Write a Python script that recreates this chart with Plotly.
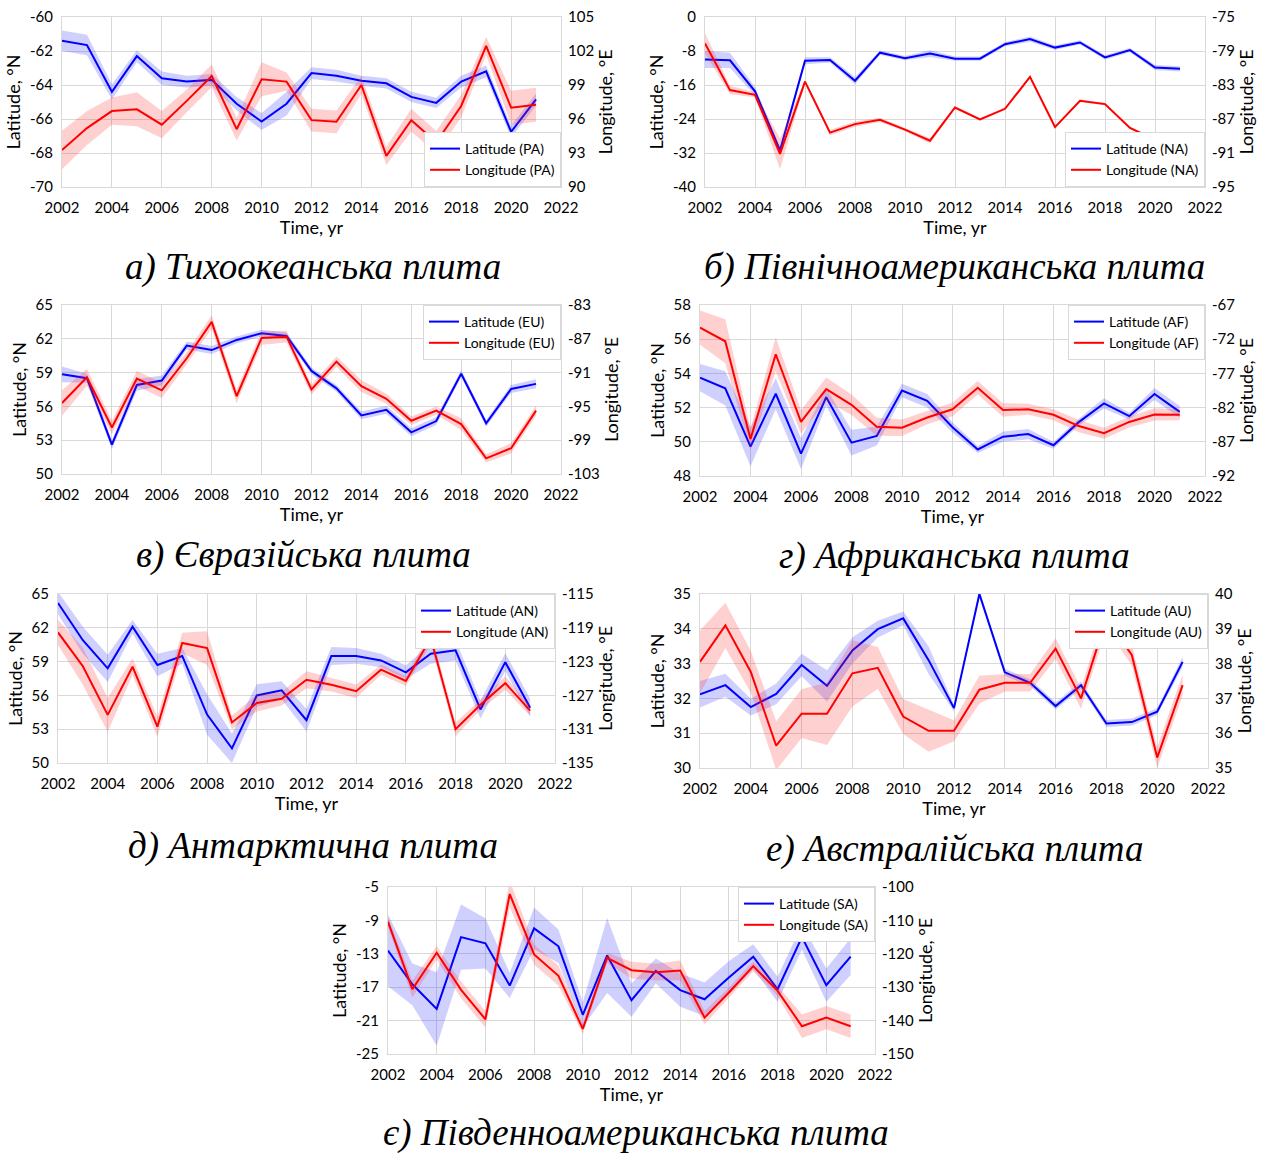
import plotly.graph_objects as go

W, H = 1273, 1154

years = list(range(2002, 2022))

# ---- Pacific plate (PA)
pa_lat = [-61.4, -61.65, -64.4, -62.3, -63.6, -63.8, -63.7, -65.1, -66.15, -65.1,
          -63.3, -63.45, -63.75, -63.9, -64.7, -65.05, -63.8, -63.2, -66.75, -64.85]
pa_lat_err = [0.6, 0.6, 0.45, 0.35, 0.4, 0.35, 0.35, 0.4, 0.5, 0.7,
              0.35, 0.35, 0.3, 0.3, 0.3, 0.3, 0.35, 0.35, 0.35, 0.35]
pa_lon = [93.26, 95.2, 96.7, 96.85, 95.5, 97.6, 99.8, 95.1, 99.5, 99.3,
          95.9, 95.75, 99.0, 92.75, 95.9, 93.95, 97.15, 102.45, 97.0, 97.25]
pa_lon_err = [1.7, 1.5, 1.2, 1.5, 1.2, 1.0, 1.0, 1.0, 1.5, 0.8,
              1.0, 1.0, 0.8, 0.8, 1.0, 1.0, 1.0, 0.8, 1.5, 1.5]

# ---- North American plate (NA)
na_lat = [-10.0, -10.2, -17.5, -31.4, -10.3, -10.1, -15.0, -8.4, -9.7, -8.6,
          -9.8, -9.8, -6.4, -5.2, -7.2, -6.0, -9.5, -7.8, -11.9, -12.2]
na_lat_err = [2.0, 1.8, 1.0, 0.8, 0.8, 0.6, 0.8, 0.5, 0.5, 0.8,
              0.5, 0.5, 0.5, 0.6, 0.5, 0.5, 0.5, 0.5, 0.6, 0.6]
na_lon = [-78.1, -83.6, -84.15, -91.1, -82.6, -88.6, -87.6, -87.1, -88.25, -89.55,
          -85.65, -87.05, -85.8, -82.05, -87.95, -84.85, -85.25, -88.05, -89.45, -89.25]
na_lon_err = [1.2, 0.5, 0.3, 1.8, 0.2, 0.3, 0.3, 0.25, 0.2, 0.3,
              0.15, 0.15, 0.15, 0.15, 0.15, 0.15, 0.15, 0.15, 0.15, 0.15]

# ---- Eurasian plate (EU)
eu_lat = [58.85, 58.5, 52.6, 57.9, 58.3, 61.4, 61.0, 61.9, 62.5, 62.25,
          59.15, 57.6, 55.2, 55.7, 53.7, 54.7, 58.9, 54.5, 57.55, 58.0]
eu_lat_err = [0.7, 0.4, 0.4, 0.5, 0.45, 0.35, 0.35, 0.3, 0.3, 0.3,
              0.3, 0.3, 0.35, 0.35, 0.35, 0.35, 0.3, 0.3, 0.35, 0.4]
eu_lon = [-94.6, -91.55, -97.5, -91.7, -93.1, -89.3, -85.0, -93.8, -86.9, -86.75,
          -93.0, -89.7, -92.6, -94.1, -96.7, -95.5, -97.1, -101.15, -99.95, -95.5]
eu_lon_err = [1.5, 1.0, 0.8, 0.9, 0.9, 0.7, 0.8, 0.8, 0.8, 0.7,
              0.6, 0.6, 0.7, 0.6, 0.5, 0.5, 0.7, 0.5, 0.6, 0.6]

# ---- African plate (AF)
af_lat = [53.75, 53.13, 49.72, 52.81, 49.31, 52.61, 49.95, 50.34, 53.0, 52.4,
          50.85, 49.55, 50.3, 50.45, 49.8, 51.15, 52.25, 51.5, 52.8, 51.75]
af_lat_err = [0.8, 1.0, 1.15, 0.9, 0.9, 0.5, 0.75, 0.55, 0.4, 0.4,
              0.3, 0.2, 0.3, 0.3, 0.2, 0.2, 0.3, 0.2, 0.35, 0.35]
af_lon = [-70.3, -72.3, -86.6, -74.2, -84.1, -79.3, -81.6, -84.8, -84.95, -83.45,
          -82.25, -79.1, -82.35, -82.25, -83.05, -84.7, -85.75, -84.1, -83.0, -83.05]
af_lon_err = [2.5, 3.2, 1.5, 2.5, 1.7, 1.7, 1.5, 1.3, 1.2, 1.0,
              1.0, 1.0, 1.0, 0.8, 0.8, 0.9, 0.8, 0.8, 0.9, 0.8]

# ---- Antarctic plate (AN)
an_lat = [64.2, 60.9, 58.4, 62.1, 58.7, 59.5, 54.3, 51.3, 56.0, 56.45,
          53.8, 59.5, 59.5, 59.1, 58.05, 59.7, 60.0, 54.75, 58.95, 54.9]
an_lat_err = [1.0, 1.2, 1.2, 0.6, 1.0, 0.7, 1.8, 1.3, 1.0, 0.8,
              1.0, 0.8, 0.7, 0.6, 0.6, 0.9, 0.9, 0.8, 0.8, 0.8]
an_lon = [-119.55, -123.55, -129.3, -123.6, -130.7, -120.8, -121.4, -130.2, -127.9, -127.4,
          -125.15, -125.75, -126.5, -123.95, -125.3, -120.2, -131.0, -128.1, -125.55, -128.8]
an_lon_err = [1.5, 2.2, 2.0, 1.0, 1.2, 1.2, 2.0, 0.8, 1.0, 0.8,
              1.0, 0.8, 0.8, 0.6, 0.6, 0.8, 0.8, 0.6, 0.8, 0.6]

# ---- Australian plate (AU)
au_lat = [32.12, 32.38, 31.75, 32.13, 32.96, 32.36, 33.38, 33.99, 34.3, 33.1,
          31.72, 35.0, 32.75, 32.45, 31.78, 32.38, 31.28, 31.32, 31.62, 33.05]
au_lat_err = [0.38, 0.33, 0.24, 0.3, 0.32, 0.45, 0.38, 0.24, 0.2, 0.4,
              0.1, 0.1, 0.1, 0.1, 0.1, 0.1, 0.1, 0.1, 0.1, 0.15]
au_lon = [38.05, 39.1, 37.76, 35.64, 36.56, 36.56, 37.72, 37.88, 36.48, 36.07,
          36.07, 37.25, 37.45, 37.45, 38.43, 37.0, 39.3, 38.25, 35.3, 37.38]
au_lon_err = [0.9, 0.65, 0.6, 0.7, 0.7, 0.9, 0.95, 0.6, 0.5, 0.6,
              0.3, 0.4, 0.25, 0.25, 0.3, 0.3, 0.3, 0.3, 0.3, 0.3]

# ---- South American plate (SA)
sa_lat = [-12.6, -16.65, -19.6, -11.0, -11.75, -16.8, -9.95, -12.1, -20.3, -13.2,
          -18.55, -15.05, -17.35, -18.45, -15.85, -13.35, -17.25, -11.0, -16.75, -13.35]
sa_lat_err = [4.3, 2.5, 4.4, 3.9, 3.0, 1.5, 2.5, 2.0, 1.5, 4.5,
              2.0, 1.5, 2.0, 2.0, 2.0, 1.5, 1.5, 1.5, 2.0, 2.2]
sa_lon = [-110.4, -130.6, -119.7, -130.8, -139.6, -102.1, -120.2, -126.6, -142.5, -121.2,
          -124.9, -125.5, -125.0, -139.1, -131.6, -123.7, -131.1, -141.7, -139.1, -141.7]
sa_lon_err = [1.5, 2.5, 2.0, 2.5, 2.5, 4.0, 3.0, 3.0, 1.5, 1.5,
              2.5, 2.5, 3.0, 2.0, 1.5, 1.5, 1.5, 3.5, 3.5, 3.5]

codes = ["PA", "NA", "EU", "AF", "AN", "AU", "SA"]
captions = ["а) Тихоокеанська плита", "б) Північноамериканська плита",
            "в) Євразійська плита", "г) Африканська плита",
            "д) Антарктична плита", "е) Австралійська плита",
            "є) Південноамериканська плита"]
lat_ranges = [(-70, -60, 2), (-40, 0, 8), (50, 65, 3), (48, 58, 2), (50, 65, 3), (30, 35, 1), (-25, -5, 4)]
lon_ranges = [(90, 105, 3), (-95, -75, 4), (-103, -83, 4), (-92, -67, 5), (-135, -115, 4), (35, 40, 1), (-150, -100, 10)]
x_ticks = list(range(2002, 2023, 2))

series = [
    (pa_lat, pa_lat_err, pa_lon, pa_lon_err),
    (na_lat, na_lat_err, na_lon, na_lon_err),
    (eu_lat, eu_lat_err, eu_lon, eu_lon_err),
    (af_lat, af_lat_err, af_lon, af_lon_err),
    (an_lat, an_lat_err, an_lon, an_lon_err),
    (au_lat, au_lat_err, au_lon, au_lon_err),
    (sa_lat, sa_lat_err, sa_lon, sa_lon_err),
]

# layout geometry in pixels: plot area x0, x1, y0, y1 ; caption center x, y ; legend at bottom?
geom = [
    (62, 561, 17, 187, 313, 267, True),
    (705, 1205, 17, 187, 955, 267, True),
    (62, 561, 305, 474, 303, 555, False),
    (700, 1205, 305, 476, 955, 556, False),
    (58, 555, 594, 763, 313, 846, False),
    (700, 1208, 594, 768, 955, 849, False),
    (388, 875, 887, 1054, 636, 1133, False),
]

FAM = "Lato, Open Sans, sans-serif"
TICKFONT = dict(family=FAM, size=15, color="#000000")
TITLEFONT = dict(family=FAM, size=18, color="#000000")
GRID = "#d9d9d9"
BLUE = "#0000ff"
RED = "#ff0000"
BLUE_BAND = "rgba(40,40,255,0.22)"
RED_BAND = "rgba(255,40,40,0.22)"

fig = go.Figure()
layout = dict(width=W, height=H, margin=dict(l=0, r=0, t=0, b=0, autoexpand=False),
              paper_bgcolor="white", plot_bgcolor="white", showlegend=True,
              annotations=[])


def band(x, y, e):
    up = [a + b for a, b in zip(y, e)]
    lo = [a - b for a, b in zip(y, e)]
    return list(x) + list(x)[::-1], up + lo[::-1]


def ticks(lo, hi, step):
    vals = list(range(lo, hi + 1, step))
    return vals, [str(v) for v in vals]


for k in range(7):
    x0, x1, y0, y1, cx, cy, leg_bottom = geom[k]
    lat, late, lon, lone = series[k]
    code = codes[k]
    xa = "x" if k == 0 else f"x{k + 1}"
    yl = "y" if k == 0 else f"y{2 * k + 1}"
    yr = f"y{2 * k + 2}"
    xkey = "xaxis" if k == 0 else f"xaxis{k + 1}"
    ylkey = "yaxis" if k == 0 else f"yaxis{2 * k + 1}"
    yrkey = f"yaxis{2 * k + 2}"
    legkey = "legend" if k == 0 else f"legend{k + 1}"

    bx, by = band(years, lat, late)
    fig.add_trace(go.Scatter(x=bx, y=by, fill="toself", fillcolor=BLUE_BAND,
                             line=dict(width=0), mode="lines", hoverinfo="skip",
                             showlegend=False, xaxis=xa, yaxis=yl))
    fig.add_trace(go.Scatter(x=years, y=lat, mode="lines", line=dict(color=BLUE, width=2),
                             name=f"Latitude ({code})", xaxis=xa, yaxis=yl, legend=legkey))
    bx, by = band(years, lon, lone)
    fig.add_trace(go.Scatter(x=bx, y=by, fill="toself", fillcolor=RED_BAND,
                             line=dict(width=0), mode="lines", hoverinfo="skip",
                             showlegend=False, xaxis=xa, yaxis=yr))
    fig.add_trace(go.Scatter(x=years, y=lon, mode="lines", line=dict(color=RED, width=2),
                             name=f"Longitude ({code})", xaxis=xa, yaxis=yr, legend=legkey))

    layout[xkey] = dict(domain=[x0 / W, x1 / W], anchor=yl, range=[2002, 2022],
                        tickmode="array", tickvals=x_ticks, ticktext=[str(v) for v in x_ticks],
                        showgrid=True, gridcolor=GRID, automargin=False, ticklabelstandoff=7,
                        gridwidth=1, zeroline=False, showline=True, mirror=True,
                        linecolor=GRID, linewidth=1, ticks="", tickfont=TICKFONT,
                        title=dict(text="Time, yr", font=TITLEFONT, standoff=2))
    lo_, hi_, dt = lat_ranges[k]
    tv, tt = ticks(lo_, hi_, dt)
    layout[ylkey] = dict(domain=[1 - y1 / H, 1 - y0 / H], anchor=xa, range=[lo_, hi_],
                         tickmode="array", tickvals=tv, ticktext=tt, automargin=False,
                         showgrid=True, gridcolor=GRID, ticklabelstandoff=5,
                         gridwidth=1, zeroline=False, showline=True, mirror=True,
                         linecolor=GRID, linewidth=1, ticks="", tickfont=TICKFONT,
                         title=dict(text="Latitude, °N", font=TITLEFONT, standoff=4))
    lo2, hi2, dt2 = lon_ranges[k]
    tv2, tt2 = ticks(lo2, hi2, dt2)
    layout[yrkey] = dict(domain=[1 - y1 / H, 1 - y0 / H], anchor=xa, overlaying=yl,
                         side="right", range=[lo2, hi2], tickmode="array", tickvals=tv2,
                         ticktext=tt2, automargin=False, ticklabelstandoff=6,
                         showgrid=False, zeroline=False, showline=False,
                         ticks="", tickfont=TICKFONT,
                         title=dict(text="Longitude, °E", font=TITLEFONT, standoff=6))
    legend = dict(x=x1 / W, xanchor="right", bgcolor="white", bordercolor=GRID,
                  borderwidth=1, font=dict(family=FAM, size=14, color="#000000"),
                  itemwidth=30, tracegroupgap=0)
    if leg_bottom:
        legend.update(y=1 - y1 / H, yanchor="bottom")
    else:
        legend.update(y=1 - y0 / H, yanchor="top")
    layout[legkey] = legend

    layout["annotations"].append(dict(
        text=f"<i>{captions[k]}</i>", x=cx / W, y=1 - cy / H, xref="paper", yref="paper",
        xanchor="center", yanchor="middle", showarrow=False,
        font=dict(family="Liberation Serif, Times New Roman, serif", size=37, color="#000000")))

fig.update_layout(**layout)
fig.write_html("out.html")
